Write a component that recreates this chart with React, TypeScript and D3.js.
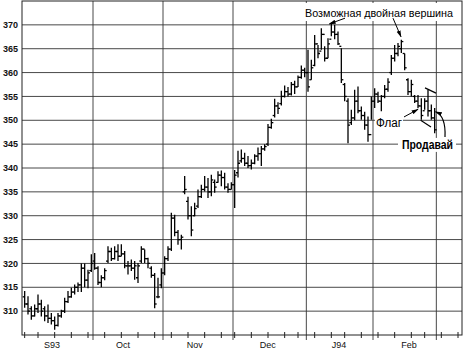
import React from "react";
import * as d3 from "d3";

// ---- Data (Sep 1993 – Feb 1994 daily bars) ----
const highs = [
  314.2, 313.1, 311.0, 311.4, 313.5, 312.4, 311.0, 311.4, 309.6, 308.9, 309.6, 310.3, 312.8, 314.2, 314.9, 315.6, 316.0, 320.0, 320.0, 318.7, 321.9,
  322.2, 319.4, 317.5, 319.0, 323.6, 323.3, 323.6, 324.0, 324.0, 322.6, 320.5, 320.8, 320.5, 320.1, 323.6, 322.9, 321.2, 319.4, 318.0, 317.0, 319.0,
  321.5, 323.6, 330.6, 330.2, 327.0, 326.0, 338.3, 334.0, 332.0, 332.7, 335.5, 336.5, 338.3, 337.9, 338.6, 337.6, 339.3, 339.5, 339.0, 336.8, 337.0,
  339.6, 343.6, 343.9, 343.2, 342.5, 341.8, 342.9, 344.3, 344.6, 345.0, 349.2, 350.3, 354.5, 353.8, 356.2, 357.3, 357.0, 358.0, 358.3, 359.4, 361.5, 361.0,
  364.8, 362.7, 367.9, 365.8, 369.3, 365.5, 367.2, 370.5, 370.0, 368.6, 365.1, 357.8, 354.6, 352.2, 356.4, 357.1, 352.9, 351.8, 350.8, 355.0,
  356.7, 356.0, 355.3, 357.4, 358.8, 363.7, 365.8, 366.2, 366.9, 364.0, 358.8, 358.5, 355.3, 355.3, 354.6, 354.6, 356.4, 353.3, 352.6,
];
const lows = [
  310.7, 309.3, 308.2, 308.9, 309.6, 308.9, 307.9, 307.5, 307.2, 306.1, 306.8, 308.6, 309.6, 311.7, 312.8, 313.5, 314.0, 314.0, 315.0, 314.8, 318.2,
  318.7, 315.5, 315.0, 316.5, 320.1, 320.5, 320.8, 320.5, 321.5, 319.0, 317.7, 318.4, 316.6, 315.9, 320.1, 320.1, 319.0, 317.0, 310.6, 312.7, 314.8,
  317.5, 320.5, 322.6, 325.7, 323.9, 322.9, 334.5, 329.2, 325.7, 329.9, 331.6, 333.7, 335.1, 333.7, 334.1, 334.8, 336.9, 336.2, 335.5, 334.8, 335.5,
  331.6, 338.0, 341.1, 340.4, 340.0, 339.7, 340.8, 341.5, 340.4, 343.6, 344.6, 348.2, 350.6, 351.3, 353.1, 354.8, 355.0, 355.2, 355.5, 357.0, 358.7, 359.0,
  356.0, 358.5, 361.3, 363.0, 364.8, 362.3, 363.0, 367.6, 367.0, 365.8, 357.8, 354.0, 345.2, 349.0, 350.0, 351.5, 350.1, 348.0, 345.5, 350.1,
  352.6, 353.6, 351.9, 354.6, 356.0, 359.5, 362.3, 363.4, 364.1, 360.5, 355.3, 355.0, 353.6, 352.5, 350.1, 352.2, 350.8, 350.1, 347.3,
];
const opens = [
  313.0, 311.5, 310.5, 309.0, 310.5, 311.5, 310.5, 309.0, 308.5, 308.0, 307.0, 309.0, 310.0, 312.0, 313.0, 314.0, 315.0, 315.5, 319.0, 316.5, 318.5,
  320.5, 319.0, 316.0, 317.0, 320.5, 322.5, 321.0, 322.5, 321.5, 322.0, 319.5, 319.5, 319.0, 317.0, 320.5, 323.0, 321.0, 319.0, 317.5, 313.0, 315.5,
  318.0, 321.0, 323.0, 329.5, 326.5, 325.0, 335.0, 333.0, 330.0, 330.0, 332.0, 334.0, 335.5, 336.0, 335.0, 337.0, 337.0, 338.5, 338.0, 336.0, 335.5,
  336.5, 339.0, 341.5, 342.0, 341.0, 340.5, 341.0, 342.5, 343.0, 344.0, 345.0, 348.5, 351.0, 353.0, 353.5, 355.0, 356.0, 355.5, 357.5, 357.0, 359.0, 360.5,
  360.0, 358.5, 361.5, 366.0, 364.5, 368.0, 363.0, 367.0, 368.5, 368.0, 365.5, 357.5, 354.0, 349.5, 350.5, 354.0, 352.0, 351.0, 349.0, 347.0,
  354.0, 355.5, 354.0, 355.0, 356.5, 360.0, 363.0, 364.0, 365.0, 364.0, 358.5, 356.0, 355.0, 354.0, 353.0, 352.0, 354.0, 352.0, 350.5,
];
const closes = [
  311.5, 310.0, 309.0, 310.5, 311.5, 310.0, 309.0, 308.5, 308.0, 307.0, 309.0, 310.0, 312.0, 313.0, 314.0, 315.0, 315.5, 319.0, 316.5, 318.0, 320.0,
  319.0, 316.0, 317.0, 318.5, 322.5, 321.0, 322.5, 321.5, 322.0, 319.5, 319.5, 319.0, 319.5, 319.5, 323.0, 321.0, 320.0, 317.5, 311.5, 313.0, 318.0,
  321.0, 323.0, 329.5, 326.5, 325.0, 325.5, 335.5, 330.0, 327.0, 331.5, 334.0, 335.5, 336.0, 335.0, 337.5, 336.0, 338.5, 338.0, 336.0, 335.5, 336.5,
  338.5, 341.0, 342.0, 341.0, 340.5, 341.0, 342.5, 343.0, 344.0, 344.5, 348.5, 349.5, 353.0, 352.5, 355.0, 356.0, 355.5, 357.5, 357.0, 359.0, 360.5, 360.0,
  357.0, 361.0, 366.0, 364.0, 368.0, 363.0, 366.0, 368.5, 368.0, 366.0, 358.5, 355.0, 349.0, 350.5, 354.0, 352.0, 351.0, 349.0, 347.0, 354.0,
  355.5, 354.0, 355.0, 356.5, 358.0, 363.0, 364.0, 365.5, 366.5, 361.0, 356.0, 357.5, 354.0, 353.0, 351.0, 354.0, 352.0, 350.5, 348.0,
];

const holidays = ["1993-09-06", "1993-11-25", "1993-12-24", "1994-01-17", "1994-02-21"];
const calendarStart = "1993-09-01";
const calendarEnd = "1994-03-15";
const yTicks = [310, 315, 320, 325, 330, 335, 340, 345, 350, 355, 360, 365, 370];
const monthLabels = ["S93", "Oct", "Nov", "Dec", "J94", "Feb"];
const monthLabelIdx = [8.2, 29.5, 51, 72.9, 94.3, 115.3];

// annotations in data space: [barIndex, price]
const topText = { label: "Возможная двойная вершина", at: [84.1, 371.6] };
const topArrows = [
  [[96.1, 371.4], [91.4, 370.2]],
  [[110.5, 371.4], [112.9, 367.5]],
];
const flagText = { label: "Флаг", at: [105.4, 348.5] };
const flagArrow = [[113.8, 350.7], [118.0, 352.3]];
const flagLines = [
  [[120.1, 356.8], [123.4, 355.7]],
  [[118.8, 350.0], [121.9, 348.6]],
];
const sellText = { label: "Продавай", at: [113.2, 344.0] };
const sellArrow = [[126.1, 346.5], [126.4, 350.9], [123.25, 351.8]];

const W = 464;
const H = 357;
const FONT = "'Liberation Sans', Arial, sans-serif";

export default function App() {
  const parse = d3.timeParse("%Y-%m-%d");
  const fmt = d3.timeFormat("%Y-%m-%d");
  const hol = new Set(holidays);
  const days = d3
    .timeDay.range(parse(calendarStart)!, d3.timeDay.offset(parse(calendarEnd)!, 1))
    .filter((d) => d.getDay() !== 0 && d.getDay() !== 6 && !hol.has(fmt(d)));

  const x = d3.scaleLinear().domain([-0.8, 131.2]).range([22, 462]);
  const y = d3.scaleLinear().domain([305, 375]).range([335, 1]);

  const left = 22, right = 462, top = 1, bottom = 335;

  const monthStarts: number[] = [];
  days.forEach((d, i) => {
    if (i > 0 && d.getMonth() !== days[i - 1].getMonth()) monthStarts.push(i);
  });
  const weekTicks: number[] = [];
  days.forEach((d, i) => {
    if (d.getDay() === 3 && x(i) <= right) weekTicks.push(i);
  });

  const bars = highs.map((h, i) => ({ i, h, l: lows[i], o: opens[i], c: closes[i] }));
  const P = (p: number[]) => [x(p[0]), y(p[1])];
  const line = d3.line();

  const tTop = P(topText.at);
  const tFlag = P(flagText.at);
  const tSell = P(sellText.at);

  const sa = sellArrow.map(P);
  const sellPath = `M${sa[0][0]},${sa[0][1]} Q${sa[1][0]},${sa[1][1]} ${sa[2][0]},${sa[2][1]}`;

  return (
    <svg width={W} height={H} style={{ position: "absolute", left: 0, top: 0, background: "#fff" }}>
      <defs>
        <marker id="ah" viewBox="0 0 10 6" refX="9" refY="3" markerWidth="7" markerHeight="5" orient="auto" markerUnits="userSpaceOnUse">
          <path d="M0,0 L10,3 L0,6 z" fill="#000" />
        </marker>
      </defs>
      <rect x={0} y={0} width={W} height={H} fill="#fff" />
      {yTicks.map((t) => (
        <line key={"h" + t} x1={left} x2={right} y1={y(t)} y2={y(t)} stroke="#333" strokeWidth={0.9} />
      ))}
      {monthStarts.map((i) => (
        <line key={"m" + i} x1={x(i - 0.5)} x2={x(i - 0.5)} y1={top} y2={bottom + 5} stroke="#333" strokeWidth={0.9} />
      ))}
      <rect x={left} y={top} width={right - left} height={bottom - top} fill="none" stroke="#222" strokeWidth={1} />
      {weekTicks.map((i) => (
        <line key={"w" + i} x1={x(i)} x2={x(i)} y1={bottom - 3} y2={bottom + 3} stroke="#222" strokeWidth={1} />
      ))}
      {yTicks.map((t) => (
        <text key={"yl" + t} x={18} y={y(t)} dy="0.35em" textAnchor="end" fontFamily={FONT} fontSize={9} fontWeight="bold" fill="#111">
          {t}
        </text>
      ))}
      {monthLabels.map((m, k) => (
        <text key={m} x={x(monthLabelIdx[k])} y={348} textAnchor="middle" fontFamily={FONT} fontSize={9} fill="#111">
          {m}
        </text>
      ))}
      <g stroke="#000" strokeWidth={1.3}>
        {bars.map((b) => (
          <g key={b.i}>
            <line x1={x(b.i)} x2={x(b.i)} y1={y(b.h)} y2={y(b.l)} />
            <line x1={x(b.i) - 2} x2={x(b.i)} y1={y(b.o)} y2={y(b.o)} />
            <line x1={x(b.i)} x2={x(b.i) + 2} y1={y(b.c)} y2={y(b.c)} />
          </g>
        ))}
      </g>
      <rect x={tTop[0] - 2} y={3} width={152} height={18} fill="#fff" />
      <text x={tTop[0]} y={tTop[1]} fontFamily={FONT} fontSize={11.5} textLength={148} lengthAdjust="spacingAndGlyphs" fill="#000">
        {topText.label}
      </text>
      {topArrows.map((a, k) => (
        <path key={"ta" + k} d={line(a.map(P) as [number, number][]) || ""} stroke="#000" strokeWidth={1} fill="none" markerEnd="url(#ah)" />
      ))}
      <rect x={tFlag[0] - 1} y={tFlag[1] - 10} width={28} height={13} fill="#fff" />
      <text x={tFlag[0]} y={tFlag[1]} fontFamily={FONT} fontSize={12} textLength={26} lengthAdjust="spacingAndGlyphs" fill="#000">
        {flagText.label}
      </text>
      <path d={line(flagArrow.map(P) as [number, number][]) || ""} stroke="#000" strokeWidth={1} fill="none" markerEnd="url(#ah)" />
      {flagLines.map((a, k) => (
        <path key={"fl" + k} d={line(a.map(P) as [number, number][]) || ""} stroke="#000" strokeWidth={1.2} fill="none" />
      ))}
      <rect x={tSell[0] - 4} y={tSell[1] - 11} width={58} height={14} fill="#fff" />
      <text x={tSell[0]} y={tSell[1]} fontFamily={FONT} fontSize={12} fontWeight="bold" textLength={51} lengthAdjust="spacingAndGlyphs" fill="#000">
        {sellText.label}
      </text>
      <path d={sellPath} stroke="#000" strokeWidth={1.2} fill="none" markerEnd="url(#ah)" />
    </svg>
  );
}
